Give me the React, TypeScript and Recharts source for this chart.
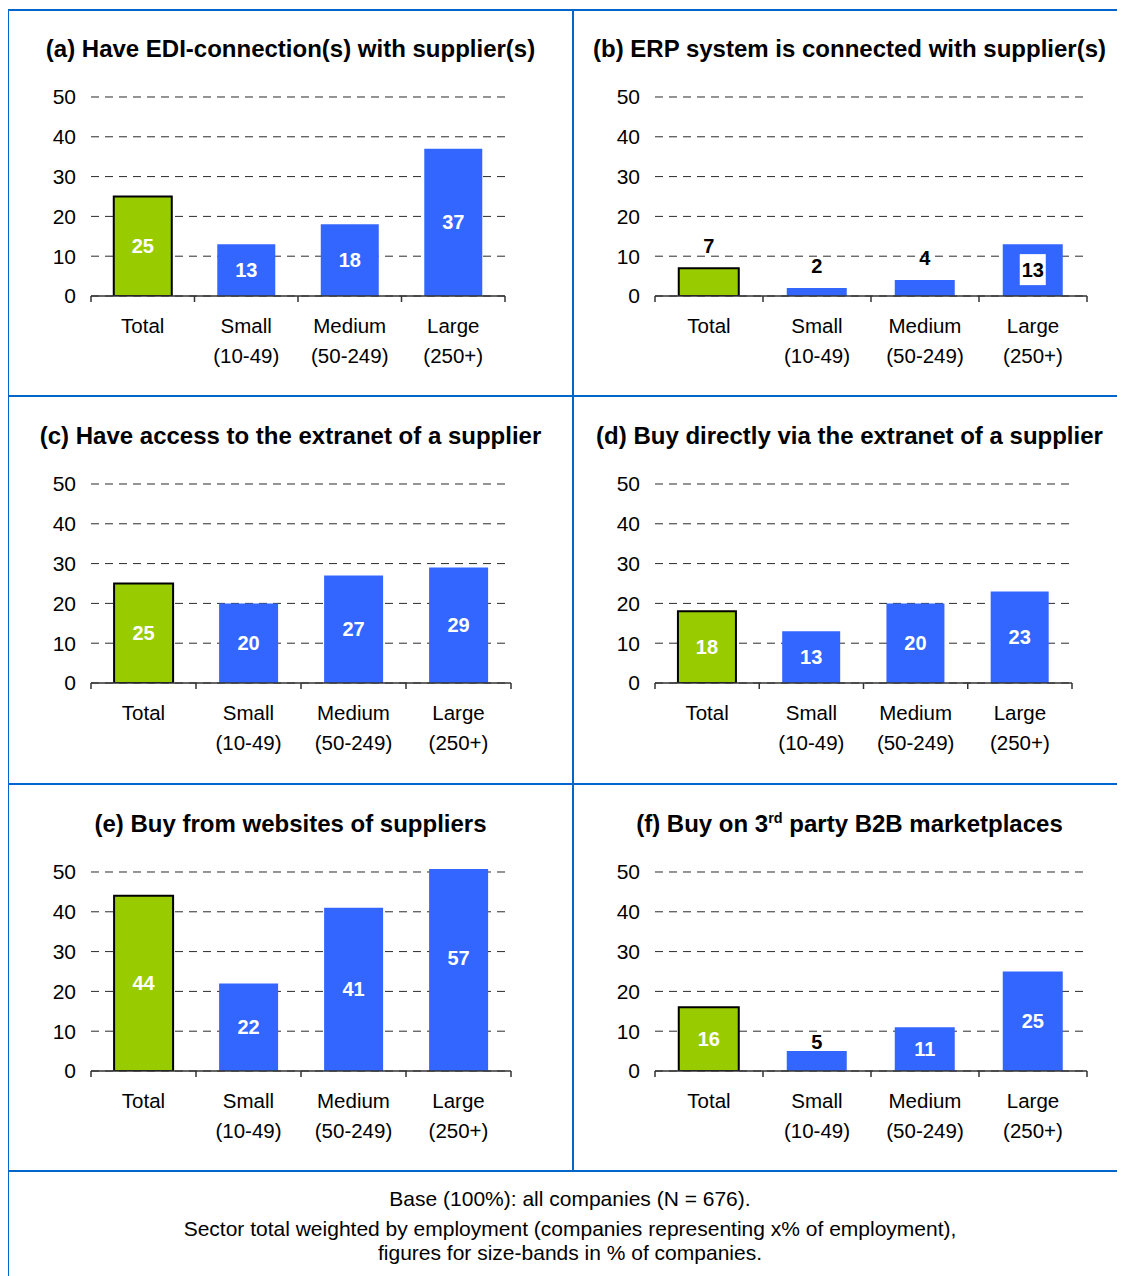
import React from 'react';
import { BarChart, Bar, XAxis, YAxis, CartesianGrid, Cell, LabelList } from 'recharts';

// Categories and size-band sub-labels shown under each bar group
const categories = ['Total', 'Small', 'Medium', 'Large'];
const sizeBands = ['', '(10-49)', '(50-249)', '(250+)'];
const yTicks = [0, 10, 20, 30, 40, 50];

// Percentages per indicator: Total, Small, Medium, Large
const ediSuppliers = [25, 13, 18, 37];
const erpConnected = [7, 2, 4, 13];
const extranetAccess = [25, 20, 27, 29];
const extranetBuying = [18, 13, 20, 23];
const supplierWebsites = [44, 22, 41, 57];
const b2bMarketplaces = [16, 5, 11, 25];

const panelTitles = [
  '(a) Have EDI-connection(s) with supplier(s)',
  '(b) ERP system is connected with supplier(s)',
  '(c) Have access to the extranet of a supplier',
  '(d) Buy directly via the extranet of a supplier',
  '(e) Buy from websites of suppliers',
  '(f) Buy on 3rd party B2B marketplaces',
];

const footerLines = [
  'Base (100%): all companies (N = 676).',
  'Sector total weighted by employment (companies representing x% of employment),',
  'figures for size-bands in % of companies.',
];

// Styling
const FONT = '"Liberation Sans", Arial, Helvetica, sans-serif';
const GREEN = '#99cc00';
const BLUE = '#3366ff';
const FRAME = '#0066cc';
const AXIS = '#333333';

type LabelMode = 'in' | 'above' | 'boxed' | 'top';

const ROW_H = 387;
const PLOT_TOP = 85;
const PLOT_H = 202;
const Y_MAX = 50.75;

const LEFT_COL = { left: 1, width: 563, yAxisWidth: 82 };
const RIGHT_COL = { left: 566, width: 551, yAxisWidth: 81 };
const ROW_TOPS = [1, 388, 776];

const panels: {
  title: string;
  values: number[];
  modes: LabelMode[];
  col: typeof LEFT_COL;
  row: number;
  right: number;
}[] = [
  { title: panelTitles[0], values: ediSuppliers, modes: ['in', 'in', 'in', 'in'], col: LEFT_COL, row: 0, right: 67 },
  { title: panelTitles[1], values: erpConnected, modes: ['above', 'above', 'above', 'boxed'], col: RIGHT_COL, row: 0, right: 38 },
  { title: panelTitles[2], values: extranetAccess, modes: ['in', 'in', 'in', 'in'], col: LEFT_COL, row: 1, right: 61 },
  { title: panelTitles[3], values: extranetBuying, modes: ['in', 'in', 'in', 'in'], col: RIGHT_COL, row: 1, right: 53 },
  { title: panelTitles[4], values: supplierWebsites, modes: ['in', 'in', 'in', 'in'], col: LEFT_COL, row: 2, right: 61 },
  { title: panelTitles[5], values: b2bMarketplaces, modes: ['in', 'top', 'in', 'in'], col: RIGHT_COL, row: 2, right: 38 },
];

// Renders ordinal suffixes like "3rd" with a superscript
function renderTitle(title: string) {
  const m = title.match(/^(.*?\d)(st|nd|rd|th)(\b.*)$/);
  if (!m) return title;
  return (
    <>
      {m[1]}
      <sup style={{ fontSize: '0.6em', lineHeight: 0 }}>{m[2]}</sup>
      {m[3]}
    </>
  );
}

function makeCategoryTick(fallbackHalf: number) {
  return function CategoryTick(props: any) {
    const { x, y, payload } = props;
    const half = payload && payload.offset ? payload.offset : fallbackHalf;
    const i = payload.index;
    return (
      <g>
        <line x1={x - half} x2={x - half} y1={y} y2={y + 6} stroke={AXIS} strokeWidth={1.5} />
        {i === categories.length - 1 && (
          <line x1={x + half} x2={x + half} y1={y} y2={y + 6} stroke={AXIS} strokeWidth={1.5} />
        )}
        <text x={x} y={y + 37} textAnchor="middle" fontSize={20.5} fill="#000" fontFamily={FONT}>
          {payload.value}
        </text>
        {sizeBands[i] && (
          <text x={x} y={y + 67} textAnchor="middle" fontSize={20.5} fill="#000" fontFamily={FONT}>
            {sizeBands[i]}
          </text>
        )}
      </g>
    );
  };
}

function makeValueLabel(modes: LabelMode[]) {
  return function ValueLabel(props: any) {
    const vb = props.viewBox && props.viewBox.width !== undefined ? props.viewBox : props;
    const { x, y, width, height } = vb;
    const idx = props.index;
    const mode = modes[idx] || 'in';
    const cx = x + width / 2;
    const top = Math.min(y, y + height);
    const cy = top + Math.abs(height) / 2;
    const common = {
      textAnchor: 'middle' as const,
      fontSize: 20,
      fontWeight: 700,
      fontFamily: FONT,
    };
    if (mode === 'above') {
      return (
        <text x={cx} y={top - 22} dy={7} fill="#000" {...common}>
          {props.value}
        </text>
      );
    }
    if (mode === 'top') {
      return (
        <text x={cx} y={top - 9} dy={7} fill="#000" {...common}>
          {props.value}
        </text>
      );
    }
    if (mode === 'boxed') {
      return (
        <g>
          <rect x={cx - 13} y={cy - 16} width={26} height={31} fill="#fff" />
          <text x={cx} y={cy} dy={7} fill="#000" {...common}>
            {props.value}
          </text>
        </g>
      );
    }
    return (
      <text x={cx} y={cy} dy={7} fill="#fff" {...common}>
        {props.value}
      </text>
    );
  };
}

// Dashed gridlines only at the labelled ticks (the plot area runs slightly above 50)
const gridRows = ({ offset }: any) =>
  yTicks.map((t) => offset.top + offset.height * (1 - t / Y_MAX));

function Panel({ p }: { p: (typeof panels)[number] }) {
  const data = categories.map((c, i) => ({ category: c, value: p.values[i] }));
  const plotW = p.col.width - p.col.yAxisWidth - p.right;
  const top = ROW_TOPS[p.row];
  return (
    <div style={{ position: 'absolute', left: p.col.left, top, width: p.col.width, height: ROW_H }}>
      <div
        style={{
          position: 'absolute',
          left: 0,
          top: 25,
          width: p.col.width,
          textAlign: 'center',
          fontFamily: FONT,
          fontWeight: 700,
          fontSize: 24,
          lineHeight: '30px',
          color: '#000',
          whiteSpace: 'nowrap',
        }}
      >
        {renderTitle(p.title)}
      </div>
      <BarChart
        width={p.col.width}
        height={ROW_H}
        data={data}
        margin={{ top: PLOT_TOP, right: p.right, bottom: 0, left: 0 }}
        barCategoryGap="22%"
      >
        <CartesianGrid
          vertical={false}
          stroke="#2b2b2b"
          strokeDasharray="8 6"
          horizontalCoordinatesGenerator={gridRows}
        />
        <XAxis
          dataKey="category"
          interval={0}
          height={ROW_H - PLOT_TOP - PLOT_H}
          axisLine={{ stroke: AXIS, strokeWidth: 1.5 }}
          tickLine={false}
          tickSize={0}
          tickMargin={0}
          tick={makeCategoryTick(plotW / 8)}
        />
        <YAxis
          type="number"
          domain={[0, Y_MAX]}
          ticks={yTicks}
          allowDataOverflow
          width={p.col.yAxisWidth}
          axisLine={false}
          tickLine={false}
          tickSize={0}
          tickMargin={15}
          tick={{ fontSize: 21, fill: '#000', fontFamily: FONT }}
        />
        <Bar dataKey="value" isAnimationActive={false}>
          {data.map((d, i) => (
            <Cell
              key={d.category}
              fill={i === 0 ? GREEN : BLUE}
              stroke={i === 0 ? '#000' : 'none'}
              strokeWidth={i === 0 ? 2 : 0}
            />
          ))}
          <LabelList dataKey="value" content={makeValueLabel(p.modes)} />
        </Bar>
      </BarChart>
    </div>
  );
}

export default function App() {
  const line = (style: React.CSSProperties) => (
    <div style={{ position: 'absolute', background: FRAME, ...style }} />
  );
  return (
    <div style={{ position: 'relative', width: 1117, height: 1268, background: '#fff', fontFamily: FONT }}>
      {panels.map((p) => (
        <Panel key={p.title} p={p} />
      ))}
      {/* frame */}
      {line({ left: -1, top: 1, width: 1118, height: 2 })}
      {line({ left: -1, top: 1, width: 2, height: 1267 })}
      {line({ left: 564, top: 1, width: 2, height: 1163 })}
      {line({ left: -1, top: 387, width: 1118, height: 2 })}
      {line({ left: -1, top: 775, width: 1118, height: 2 })}
      {line({ left: -1, top: 1162, width: 1118, height: 2 })}
      {/* footer */}
      {footerLines.map((t, i) => (
        <div
          key={t}
          style={{
            position: 'absolute',
            left: 0,
            width: 1124,
            top: [1179, 1209, 1233][i],
            lineHeight: '24px',
            textAlign: 'center',
            fontSize: 21,
            color: '#000',
            fontFamily: FONT,
          }}
        >
          {t}
        </div>
      ))}
    </div>
  );
}
